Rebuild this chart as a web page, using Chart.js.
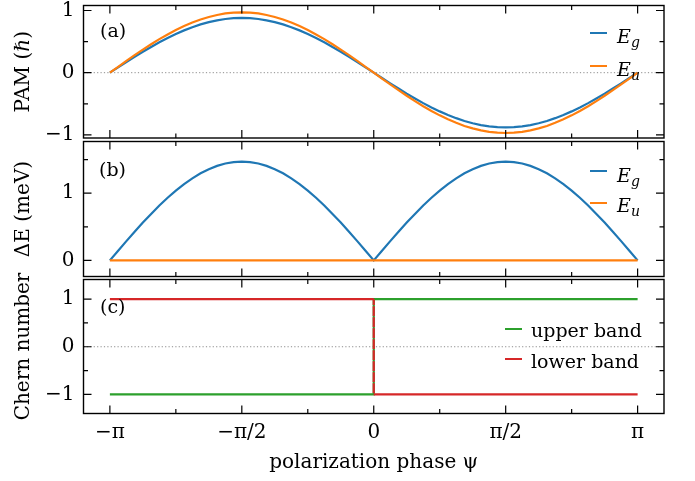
<!DOCTYPE html>
<html><head><meta charset="utf-8">
<script src="https://cdn.jsdelivr.net/npm/chart.js@4.4.0/dist/chart.umd.min.js"></script>
<style>
body{margin:0;background:#fff;width:695px;height:481px;position:relative;overflow:hidden;font-family:'DejaVu Serif',serif;color:#000}
canvas{position:absolute;left:0}
.t{position:absolute;font-size:19px;line-height:1;white-space:nowrap}
.i{font-style:italic}
.s{font-style:italic;font-size:14px;line-height:1;vertical-align:-4px}
.ln{position:absolute;height:2px;width:17px}
</style></head><body>
<canvas id="ca" width="695" height="140" style="top:0"></canvas>
<canvas id="cb" width="695" height="138" style="top:140px"></canvas>
<canvas id="cc" width="695" height="223" style="top:258px"></canvas>

<div class="t" style="left:100px;top:21px">(a)</div>
<div class="t" style="left:99px;top:160px">(b)</div>
<div class="t" style="left:100px;top:297px">(c)</div>

<div class="ln" style="left:590px;top:32px;background:#1f77b4"></div>
<div class="t" style="left:617px;top:27px"><span class="i">E</span><span class="s">g</span></div>
<div class="ln" style="left:590px;top:65px;background:#ff7f0e"></div>
<div class="t" style="left:617px;top:60px"><span class="i">E</span><span class="s">u</span></div>

<div class="ln" style="left:590px;top:170px;background:#1f77b4"></div>
<div class="t" style="left:617px;top:165.5px"><span class="i">E</span><span class="s">g</span></div>
<div class="ln" style="left:590px;top:202px;background:#ff7f0e"></div>
<div class="t" style="left:617px;top:195.5px"><span class="i">E</span><span class="s">u</span></div>

<div class="ln" style="left:505px;top:328px;background:#2ca02c"></div>
<div class="t" style="left:531px;top:320.5px">upper band</div>
<div class="ln" style="left:505px;top:358px;background:#d62728"></div>
<div class="t" style="left:531px;top:352px">lower band</div>

<script>
// ---------- data ----------
// sample positions: psi = k * pi / 32, k = -32 .. 32
const psiSteps = [-32,-31,-30,-29,-28,-27,-26,-25,-24,-23,-22,-21,-20,-19,-18,-17,-16,-15,-14,-13,-12,-11,-10,-9,-8,-7,-6,-5,-4,-3,-2,-1,0,
  1,2,3,4,5,6,7,8,9,10,11,12,13,14,15,16,17,18,19,20,21,22,23,24,25,26,27,28,29,30,31,32];
const psi = psiSteps.map(k => k * Math.PI / 32);

const pamEg = [0,0.086,0.172,0.255,0.337,0.414,0.489,0.558,0.622,0.680,0.731,0.776,0.813,0.842,0.863,0.876,0.88,
  0.876,0.863,0.842,0.813,0.776,0.731,0.680,0.622,0.558,0.489,0.414,0.337,0.255,0.172,0.086,0,
  -0.086,-0.172,-0.255,-0.337,-0.414,-0.489,-0.558,-0.622,-0.680,-0.731,-0.776,-0.813,-0.842,-0.863,-0.876,-0.88,
  -0.876,-0.863,-0.842,-0.813,-0.776,-0.731,-0.680,-0.622,-0.558,-0.489,-0.414,-0.337,-0.255,-0.172,-0.086,0];
const pamEu = [0,0.095,0.189,0.281,0.371,0.457,0.539,0.615,0.686,0.750,0.806,0.856,0.896,0.928,0.952,0.965,0.97,
  0.965,0.952,0.928,0.896,0.856,0.806,0.750,0.686,0.615,0.539,0.457,0.371,0.281,0.189,0.095,0,
  -0.095,-0.189,-0.281,-0.371,-0.457,-0.539,-0.615,-0.686,-0.750,-0.806,-0.856,-0.896,-0.928,-0.952,-0.965,-0.97,
  -0.965,-0.952,-0.928,-0.896,-0.856,-0.806,-0.750,-0.686,-0.615,-0.539,-0.457,-0.371,-0.281,-0.189,-0.095,0];

const dEEg = [0,0.144,0.287,0.426,0.563,0.692,0.817,0.932,1.039,1.136,1.222,1.297,1.358,1.407,1.442,1.463,1.47,
  1.463,1.442,1.407,1.358,1.297,1.222,1.136,1.039,0.932,0.817,0.692,0.563,0.426,0.287,0.144,0,
  0.144,0.287,0.426,0.563,0.692,0.817,0.932,1.039,1.136,1.222,1.297,1.358,1.407,1.442,1.463,1.47,
  1.463,1.442,1.407,1.358,1.297,1.222,1.136,1.039,0.932,0.817,0.692,0.563,0.426,0.287,0.144,0];
const dEEu = [0,0,0,0,0,0,0,0,0,0,0,0,0,0,0,0,0,0,0,0,0,0,0,0,0,0,0,0,0,0,0,0,0,
  0,0,0,0,0,0,0,0,0,0,0,0,0,0,0,0,0,0,0,0,0,0,0,0,0,0,0,0,0,0,0,0];

const chernX = [-Math.PI, 0, 0, Math.PI];
const chernUpper = [-1, -1, 1, 1];
const chernLower = [1, 1, -1, -1];

const xMajorTicks = [-Math.PI, -Math.PI/2, 0, Math.PI/2, Math.PI];
const xMinorTicks = [-3*Math.PI/4, -Math.PI/4, Math.PI/4, 3*Math.PI/4];
const xTickLabels = ['\u2212\u03c0', '\u2212\u03c0/2', '0', '\u03c0/2', '\u03c0'];

const yMajorA = [-1, 0, 1], yMinorA = [-0.5, 0.5];
const yMajorB = [0, 1], yMinorB = [0.5, 1.5];
const yMajorC = [-1, 0, 1], yMinorC = [-0.5, 0.5];

// ---------- helpers ----------
Chart.defaults.font.family = "'DejaVu Serif', serif";
Chart.defaults.font.size = 20;
Chart.defaults.color = '#000';

const pts = (xs, ys) => xs.map((x, i) => ({x, y: ys[i]}));
const fmt = v => v < 0 ? '\u2212' + Math.abs(v) : String(v);

const frameTicks = {
  id: 'frameTicks',
  beforeDatasetsDraw(chart, args, o) {
    if (!o.zeroLine) return;
    const {ctx, chartArea: a} = chart;
    const y = chart.scales.y.getPixelForValue(0);
    ctx.save();
    ctx.strokeStyle = '#808080'; ctx.lineWidth = 0.9; ctx.setLineDash([1.2, 2.2]);
    ctx.beginPath(); ctx.moveTo(a.left, y); ctx.lineTo(a.right, y); ctx.stroke();
    ctx.restore();
  },
  afterDatasetsDraw(chart, args, o) {
    const {ctx, chartArea: a, scales: {x, y}} = chart;
    ctx.save();
    ctx.strokeStyle = '#000'; ctx.lineWidth = 1.2; ctx.setLineDash([]);
    ctx.beginPath();
    const xt = (vals, len) => vals.forEach(v => {
      const px = x.getPixelForValue(v);
      ctx.moveTo(px, a.bottom); ctx.lineTo(px, a.bottom - len);
      ctx.moveTo(px, a.top); ctx.lineTo(px, a.top + len);
    });
    const yt = (vals, len) => vals.forEach(v => {
      const py = y.getPixelForValue(v);
      ctx.moveTo(a.left, py); ctx.lineTo(a.left + len, py);
      ctx.moveTo(a.right, py); ctx.lineTo(a.right - len, py);
    });
    xt(xMajorTicks, 8); xt(xMinorTicks, 4.5);
    yt(o.yMajor, 8); yt(o.yMinor, 4.5);
    ctx.stroke();
    ctx.lineWidth = 1.4;
    ctx.strokeRect(a.left, a.top, a.right - a.left, a.bottom - a.top);
    ctx.restore();
  }
};

function makeOptions(c) {
  return {
    responsive: false, animation: false, events: [],
    layout: {padding: {left: 0, right: 31, top: c.padTop, bottom: c.padBottom}},
    elements: {point: {radius: 0}, line: {borderWidth: 2.2, tension: 0}},
    plugins: {legend: {display: false}, tooltip: {enabled: false},
      frameTicks: {zeroLine: c.zeroLine, yMajor: c.yMajor, yMinor: c.yMinor}},
    scales: {
      x: {
        type: 'linear', min: -1.1 * Math.PI, max: 1.1 * Math.PI, display: c.showX,
        afterBuildTicks: s => { s.ticks = xMajorTicks.map(v => ({value: v})); },
        ticks: {callback: (v, i) => xTickLabels[i], autoSkip: false, maxRotation: 0, padding: 7},
        grid: {display: false, drawTicks: false}, border: {display: false},
        title: {display: c.showX, text: 'polarization phase \u03c8', padding: {top: 0, bottom: 6.6}},
        afterFit: s => { s.height = c.showX ? 67.5 : 0; s.paddingLeft = 0; s.paddingRight = 0; }
      },
      y: {
        type: 'linear', min: c.yMin, max: c.yMax,
        afterBuildTicks: s => { s.ticks = c.yMajor.map(v => ({value: v})); },
        ticks: {callback: v => fmt(v), autoSkip: false, padding: 9},
        grid: {display: false, drawTicks: false}, border: {display: false},
        title: {display: true, text: c.yTitle, padding: {top: 12, bottom: 0}},
        afterFit: s => { s.width = 83.5; s.paddingTop = 0; s.paddingBottom = 0; }
      }
    }
  };
}

new Chart(document.getElementById('ca'), {
  type: 'line',
  data: {datasets: [
    {label: 'E_g', data: pts(psi, pamEg), borderColor: '#1f77b4', order: 2},
    {label: 'E_u', data: pts(psi, pamEu), borderColor: '#ff7f0e', order: 1}
  ]},
  options: makeOptions({padTop: 5.5, padBottom: 2, showX: false, zeroLine: true,
    yMin: -1.05, yMax: 1.08, yMajor: yMajorA, yMinor: yMinorA, yTitle: 'PAM (\u210f)'}),
  plugins: [frameTicks]
});

new Chart(document.getElementById('cb'), {
  type: 'line',
  data: {datasets: [
    {label: 'E_g', data: pts(psi, dEEg), borderColor: '#1f77b4', order: 2},
    {label: 'E_u', data: pts(psi, dEEu), borderColor: '#ff7f0e', order: 1}
  ]},
  options: makeOptions({padTop: 1.5, padBottom: 1.5, showX: false, zeroLine: false,
    yMin: -0.24, yMax: 1.77, yMajor: yMajorB, yMinor: yMinorB, yTitle: '\u0394E (meV)'}),
  plugins: [frameTicks]
});

new Chart(document.getElementById('cc'), {
  type: 'line',
  data: {datasets: [
    {label: 'upper band', data: pts(chernX, chernUpper), borderColor: '#2ca02c', order: 2},
    {label: 'lower band', data: pts(chernX, chernLower), borderColor: '#d62728', order: 1,
      segment: {borderDash: s => s.p0.parsed.x === s.p1.parsed.x ? [6, 5] : []}}
  ]},
  options: makeOptions({padTop: 21.5, padBottom: 0, showX: true, zeroLine: true,
    yMin: -1.4, yMax: 1.41, yMajor: yMajorC, yMinor: yMinorC, yTitle: 'Chern number'}),
  plugins: [frameTicks]
});
</script>
</body></html>
